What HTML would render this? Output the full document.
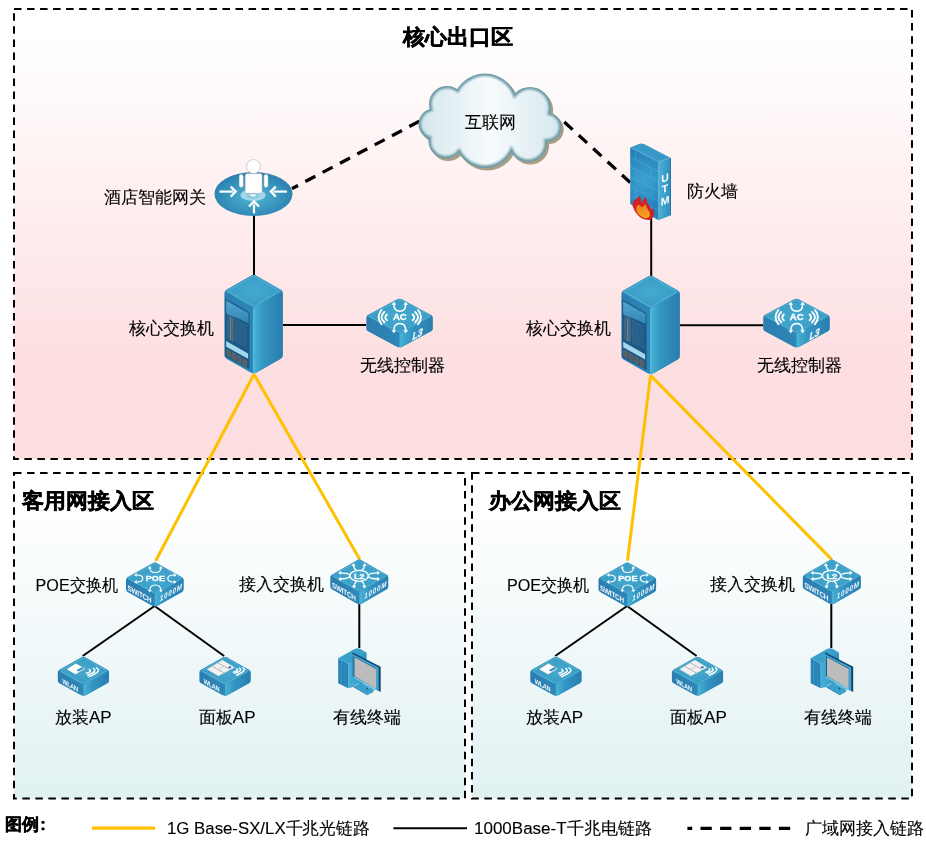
<!DOCTYPE html>
<html><head><meta charset="utf-8"><style>
html,body{margin:0;padding:0;background:#fff;overflow:hidden;}
svg{display:block;font-family:"Liberation Sans", sans-serif;will-change:transform;}
</style></head><body>
<svg width="926" height="842" viewBox="0 0 926 842">
<defs>
<linearGradient id="gPink" x1="0" y1="0" x2="0" y2="1">
  <stop offset="0" stop-color="#ffffff"/>
  <stop offset="0.06" stop-color="#ffffff"/>
  <stop offset="0.78" stop-color="#fddfe1"/>
  <stop offset="1" stop-color="#fddee0"/>
</linearGradient>
<linearGradient id="gCyan" x1="0" y1="0" x2="0" y2="1">
  <stop offset="0" stop-color="#ffffff"/>
  <stop offset="0.1" stop-color="#ffffff"/>
  <stop offset="1" stop-color="#e1f1f2"/>
</linearGradient>
<radialGradient id="gTop" cx="0.5" cy="0.5" r="0.6">
  <stop offset="0" stop-color="#46aad0"/>
  <stop offset="1" stop-color="#3597c0"/>
</radialGradient>
<linearGradient id="gLeft" x1="0" y1="0" x2="1" y2="0">
  <stop offset="0" stop-color="#2a7db0"/>
  <stop offset="0.7" stop-color="#2f8bbb"/>
  <stop offset="1" stop-color="#3aa5cb"/>
</linearGradient>
<linearGradient id="gRight" x1="0" y1="0" x2="1" y2="0">
  <stop offset="0" stop-color="#48b5d5"/>
  <stop offset="0.35" stop-color="#3394c2"/>
  <stop offset="1" stop-color="#2a7cae"/>
</linearGradient>
<radialGradient id="gGw" cx="0.5" cy="0.55" r="0.55">
  <stop offset="0" stop-color="#4fb6d4"/>
  <stop offset="1" stop-color="#2a7fae"/>
</radialGradient>
<linearGradient id="gCloud" gradientUnits="userSpaceOnUse" x1="418" y1="0" x2="563" y2="0">
  <stop offset="0" stop-color="#d3e6ec"/>
  <stop offset="0.5" stop-color="#f7fbfc"/>
  <stop offset="1" stop-color="#d5e7ed"/>
</linearGradient>
<linearGradient id="gDisp" x1="0" y1="0" x2="0" y2="1">
  <stop offset="0" stop-color="#58b0d6"/>
  <stop offset="1" stop-color="#2f80b2"/>
</linearGradient>
<linearGradient id="gPcR" x1="0" y1="0" x2="1" y2="0">
  <stop offset="0" stop-color="#44b0d8"/>
  <stop offset="1" stop-color="#2f8ec2"/>
</linearGradient>
<linearGradient id="gFlame" x1="0" y1="0" x2="0.3" y2="1">
  <stop offset="0" stop-color="#ee7a1e"/>
  <stop offset="1" stop-color="#f6a01a"/>
</linearGradient>
<filter id="fBlur" x="-10%" y="-10%" width="120%" height="120%"><feGaussianBlur stdDeviation="1.3"/></filter>
<radialGradient id="gFwF" gradientUnits="userSpaceOnUse" cx="645" cy="180" r="30">
  <stop offset="0" stop-color="#3ba3d0"/>
  <stop offset="1" stop-color="#2680b8"/>
</radialGradient>
<linearGradient id="gFwR" x1="0" y1="0" x2="1" y2="0">
  <stop offset="0" stop-color="#4ab3da"/>
  <stop offset="1" stop-color="#2f8cc0"/>
</linearGradient>
<clipPath id="clip292_167_666"><path d="M2.60,1.49 Q0.00,0.00 -2.60,1.49 L-27.12,15.51 Q-29.20,16.70 -29.20,19.10 L-29.20,80.90 Q-29.20,83.30 -27.12,84.49 L-3.39,98.06 Q0.00,100.00 3.39,98.06 L27.12,84.49 Q29.20,83.30 29.20,80.90 L29.20,19.10 Q29.20,16.70 27.12,15.51 Z"/></clipPath><clipPath id="clip332_177_145"><path d="M2.12,1.13 Q0.00,0.00 -2.12,1.13 L-31.51,16.80 Q-33.20,17.70 -33.20,19.62 L-33.20,30.28 Q-33.20,32.20 -31.51,33.10 L-2.75,48.43 Q0.00,49.90 2.75,48.43 L31.51,33.10 Q33.20,32.20 33.20,30.28 L33.20,19.62 Q33.20,17.70 31.51,16.80 Z"/></clipPath><clipPath id="clip288_162_128"><path d="M2.09,1.18 Q0.00,0.00 -2.09,1.18 L-27.13,15.26 Q-28.80,16.20 -28.80,18.12 L-28.80,27.08 Q-28.80,29.00 -27.13,29.94 L-2.72,43.67 Q0.00,45.20 2.72,43.67 L27.13,29.94 Q28.80,29.00 28.80,27.08 L28.80,18.12 Q28.80,16.20 27.13,15.26 Z"/></clipPath><clipPath id="clip290_166_128"><path d="M2.08,1.19 Q0.00,0.00 -2.08,1.19 L-27.33,15.65 Q-29.00,16.60 -29.00,18.52 L-29.00,27.48 Q-29.00,29.40 -27.33,30.35 L-2.71,44.45 Q0.00,46.00 2.71,44.45 L27.33,30.35 Q29.00,29.40 29.00,27.48 L29.00,18.52 Q29.00,16.60 27.33,15.65 Z"/></clipPath><clipPath id="clip256_143_116"><path d="M2.10,1.17 Q0.00,0.00 -2.10,1.17 L-23.92,13.36 Q-25.60,14.30 -25.60,16.22 L-25.60,23.98 Q-25.60,25.90 -23.92,26.84 L-2.72,38.68 Q0.00,40.20 2.72,38.68 L23.92,26.84 Q25.60,25.90 25.60,23.98 L25.60,16.22 Q25.60,14.30 23.92,13.36 Z"/></clipPath></defs>
<rect x="0" y="0" width="926" height="842" fill="#fff"/><rect x="14" y="9" width="898" height="450" fill="url(#gPink)"/><rect x="14" y="473" width="451" height="325.6" fill="url(#gCyan)"/><rect x="472" y="473" width="440" height="325.6" fill="url(#gCyan)"/><rect x="14" y="9" width="898" height="450" fill="none" stroke="#000" stroke-width="2" stroke-dasharray="7.5 5.53"/><rect x="14" y="473" width="451" height="325.6" fill="none" stroke="#000" stroke-width="2" stroke-dasharray="7.5 5.53"/><rect x="472" y="473" width="440" height="325.6" fill="none" stroke="#000" stroke-width="2" stroke-dasharray="7.5 5.53"/><g stroke="#ffc000" stroke-width="3" fill="none"><line x1="254" y1="374.3" x2="155.6" y2="561"/><line x1="254" y1="374.3" x2="359.8" y2="559.6"/><line x1="650.5" y1="375.4" x2="627.5" y2="560.8"/><line x1="650.5" y1="375.4" x2="831.6" y2="559.4"/></g><g stroke="#000" stroke-width="2" fill="none"><line x1="254" y1="214" x2="254" y2="275"/><line x1="651.2" y1="215" x2="651.2" y2="276"/><line x1="283" y1="325" x2="366" y2="325"/><line x1="680" y1="325.2" x2="763" y2="325.2"/><line x1="154.6" y1="606" x2="82.7" y2="656"/><line x1="154.6" y1="606" x2="224.1" y2="656"/><line x1="627.1" y1="606" x2="555.2" y2="656"/><line x1="627.1" y1="606" x2="696.6" y2="656"/><line x1="359.3" y1="604" x2="359.3" y2="648"/><line x1="831.3" y1="604" x2="831.3" y2="648"/></g><g stroke="#000" stroke-width="3.3" stroke-dasharray="11.3 8.3" fill="none"><line x1="419.3" y1="121.3" x2="292" y2="188.6"/><line x1="564.3" y1="122" x2="630.2" y2="182.5"/></g><g><g fill="#a89f86"><circle cx="487.2" cy="108.6" r="32.5"/><circle cx="449.2" cy="106.6" r="18"/><circle cx="436.2" cy="126.6" r="15.5"/><circle cx="448.2" cy="143.6" r="17.5"/><circle cx="487.2" cy="140.6" r="30"/><circle cx="532.2" cy="110.6" r="21"/><circle cx="549.2" cy="129.6" r="14.5"/><circle cx="530.2" cy="145.6" r="19"/></g><g fill="#6a9aa5"><circle cx="485" cy="106" r="32.5"/><circle cx="447" cy="104" r="18"/><circle cx="434" cy="124" r="15.5"/><circle cx="446" cy="141" r="17.5"/><circle cx="485" cy="138" r="30"/><circle cx="530" cy="108" r="21"/><circle cx="547" cy="127" r="14.5"/><circle cx="528" cy="143" r="19"/></g><g fill="url(#gCloud)" filter="url(#fBlur)"><circle cx="485" cy="106" r="29.9"/><circle cx="447" cy="104" r="15.4"/><circle cx="434" cy="124" r="12.9"/><circle cx="446" cy="141" r="14.9"/><circle cx="485" cy="138" r="27.4"/><circle cx="530" cy="108" r="18.4"/><circle cx="547" cy="127" r="11.9"/><circle cx="528" cy="143" r="16.4"/><circle cx="470" cy="124" r="23.4"/><circle cx="505" cy="124" r="23.4"/><circle cx="490" cy="120" r="27.4"/><circle cx="447" cy="124" r="13.4"/><circle cx="533" cy="126" r="13.4"/></g></g><g transform="translate(253.5,194)"><ellipse cx="0" cy="0" rx="39" ry="22" fill="url(#gGw)"/><ellipse cx="-0.5" cy="1.2" rx="12.5" ry="5.8" fill="#a3d6e6"/><ellipse cx="-0.5" cy="1.6" rx="7" ry="3.2" fill="#8ccbe0"/><path d="M-4.2,0.6 Q-0.5,4.3 3.2,0.6 Z" fill="#fff"/><circle cx="0" cy="-27.4" r="7" fill="#fff" stroke="#8e9ca5" stroke-width="0.45"/><path d="M-8.4,-18.3 Q-8.4,-20.4 -6.4,-20.4 L6.6,-20.4 Q8.6,-20.4 8.6,-18.3 L8.6,-2.8 Q8.6,-0.7 6.6,-0.7 L-6.4,-0.7 Q-8.4,-0.7 -8.4,-2.8 Z" fill="#fff" stroke="#8e9ca5" stroke-width="0.45"/><rect x="-14.4" y="-19.8" width="4.2" height="13.2" rx="2" fill="#fff" stroke="#8e9ca5" stroke-width="0.45"/><rect x="10.4" y="-19.8" width="4.2" height="13.2" rx="2" fill="#fff" stroke="#8e9ca5" stroke-width="0.45"/><g stroke="#fff" stroke-width="2.2" stroke-linecap="butt"><line x1="-34" y1="-2.4" x2="-20.5" y2="-2.4"/><line x1="33.5" y1="-2.4" x2="20" y2="-2.4"/><line x1="0.5" y1="19.5" x2="0.5" y2="10.5"/></g><g fill="none" stroke="#fff" stroke-width="2.3" stroke-linejoin="miter" stroke-linecap="butt"><path d="M-22.8,-7.4 L-17.8,-2.4 L-22.8,2.6"/><path d="M22.3,-7.4 L17.3,-2.4 L22.3,2.6"/><path d="M-4.5,12.5 L0.5,7.5 L5.5,12.5"/></g></g><g><path d="M630.2,147.4 L639,143.9 Q641.5,142.9 644,144.1 L670.9,158.1 L658.5,162.1 Z" fill="#3898c6"/><path d="M631.5,147.6 L658.5,161.4 L669.3,158" fill="none" stroke="#5fb8dc" stroke-width="0.5"/><path d="M658.5,162.1 L670.9,158.1 L670.9,215.2 L658.5,220.2 Z" fill="url(#gFwR)"/><line x1="670.5" y1="158.3" x2="670.5" y2="215.2" stroke="#1f6d9c" stroke-width="0.8"/><path d="M630.2,147.4 L658.5,162.1 L658.5,220.2 L630.2,204 Z" fill="url(#gFwF)"/><g stroke="#58b0d8" stroke-width="0.55" fill="none" opacity="0.9"><line x1="630.2" y1="157.10" x2="658.5" y2="171.80"/><line x1="630.2" y1="166.80" x2="658.5" y2="181.50"/><line x1="630.2" y1="176.50" x2="658.5" y2="191.20"/><line x1="630.2" y1="186.20" x2="658.5" y2="200.90"/><line x1="630.2" y1="195.90" x2="658.5" y2="210.60"/><line x1="635.8" y1="151.11" x2="635.8" y2="159.31"/><line x1="651.2" y1="168.81" x2="651.2" y2="177.01"/><line x1="635.8" y1="170.51" x2="635.8" y2="178.71"/><line x1="651.2" y1="188.21" x2="651.2" y2="196.41"/><line x1="635.8" y1="189.91" x2="635.8" y2="198.11"/><line x1="651.2" y1="207.61" x2="651.2" y2="215.81"/></g><g transform="translate(665,181.5) skewY(-20)"><text x="0" y="0" font-size="10.5" font-weight="bold" fill="#fff" text-anchor="middle" font-family="Liberation Sans">U</text></g><g transform="translate(665,192.4) skewY(-20)"><text x="0" y="0" font-size="10.5" font-weight="bold" fill="#fff" text-anchor="middle" font-family="Liberation Sans">T</text></g><g transform="translate(665,204.3) skewY(-20)"><text x="0" y="0" font-size="10.5" font-weight="bold" fill="#fff" text-anchor="middle" font-family="Liberation Sans">M</text></g><path d="M632.6,206 Q632,201.5 635.5,199.5 Q638.5,198 639.8,195.8 Q641.2,199.5 642.2,203.2 Q643,199.5 645.5,197 Q647,200.5 647.6,203.5 Q650.5,206.5 651.2,210 Q652.3,209.5 653.2,208.2 Q654.5,212.5 653.6,216 Q652.8,218.8 650.5,219.8 Q646,220.6 641.5,218.2 Q635.2,214 632.6,206 Z" fill="#d41f26"/><path d="M636.2,209.5 Q636,205.8 638.8,204.5 Q640.5,206 642.2,207.6 Q643.5,205.3 645.6,204.2 Q646.4,207 647.8,209.2 Q650.2,212 650,215 Q649.6,217.8 647.2,218.3 Q643,218.4 639.8,215.6 Q636.6,213 636.2,209.5 Z" fill="url(#gFlame)"/></g><g transform="translate(253.6,274.3)"><path d="M2.60,1.49 Q0.00,0.00 -2.60,1.49 L-27.12,15.51 Q-29.20,16.70 -29.20,19.10 L-29.20,80.90 Q-29.20,83.30 -27.12,84.49 L-3.39,98.06 Q0.00,100.00 3.39,98.06 L27.12,84.49 Q29.20,83.30 29.20,80.90 L29.20,19.10 Q29.20,16.70 27.12,15.51 Z" fill="url(#gLeft)"/><path d="M0,31.4 L30.2,14.7 L30.2,85.3 L0,102.0 Z" fill="url(#gRight)" clip-path="url(#clip292_167_666)"/><path d="M2.60,1.49 Q0.00,0.00 -2.60,1.49 L-27.12,15.51 Q-29.20,16.70 -27.12,17.89 L-3.39,31.46 Q0.00,33.40 3.39,31.46 L27.12,17.89 Q29.20,16.70 27.12,15.51 Z" fill="url(#gTop)"/><path d="M-28.40,24.30 L-4.10,38.20 L-4.10,95.00 L-28.40,82.30 Z" fill="#1b5885"/><path d="M-27.40,26.27 L-5.10,39.03 L-5.10,48.83 L-27.40,39.07 Z" fill="url(#gDisp)"/><g stroke="#3c8fbf" stroke-width="0.7"><line x1="-27.4" y1="27.00" x2="-5.1" y2="40.33"/><line x1="-27.4" y1="29.60" x2="-5.1" y2="42.93"/><line x1="-27.4" y1="32.20" x2="-5.1" y2="45.53"/><line x1="-27.4" y1="34.80" x2="-5.1" y2="48.13"/></g><g stroke="#c3d0d8" stroke-width="0.55" stroke-dasharray="1.2 0.4 0.8 0.5" opacity="0.8"><line x1="-26.3" y1="39.50" x2="-20" y2="43.10"/><line x1="-26.3" y1="41.65" x2="-20" y2="45.25"/><line x1="-26.3" y1="43.80" x2="-20" y2="47.40"/><line x1="-26.3" y1="45.95" x2="-20" y2="49.55"/><line x1="-26.3" y1="48.10" x2="-20" y2="51.70"/><line x1="-26.3" y1="50.25" x2="-20" y2="53.85"/><line x1="-26.3" y1="52.40" x2="-20" y2="56.00"/><line x1="-26.3" y1="54.55" x2="-20" y2="58.15"/><line x1="-26.3" y1="56.70" x2="-20" y2="60.30"/><line x1="-26.3" y1="58.85" x2="-20" y2="62.45"/><line x1="-26.3" y1="61.00" x2="-20" y2="64.60"/><line x1="-26.3" y1="63.15" x2="-20" y2="66.75"/></g><g stroke="#a9b9c4" stroke-width="0.5" stroke-dasharray="0.9 0.6 1.4 0.4" opacity="0.7"><line x1="-18.5" y1="45.16" x2="-6.5" y2="52.02"/><line x1="-18.5" y1="47.31" x2="-6.5" y2="54.17"/><line x1="-18.5" y1="49.46" x2="-6.5" y2="56.32"/><line x1="-18.5" y1="51.61" x2="-6.5" y2="58.48"/><line x1="-18.5" y1="53.76" x2="-6.5" y2="60.62"/><line x1="-18.5" y1="55.91" x2="-6.5" y2="62.77"/><line x1="-18.5" y1="58.06" x2="-6.5" y2="64.92"/><line x1="-18.5" y1="60.21" x2="-6.5" y2="67.07"/><line x1="-18.5" y1="62.36" x2="-6.5" y2="69.22"/><line x1="-18.5" y1="64.51" x2="-6.5" y2="71.38"/><line x1="-18.5" y1="66.66" x2="-6.5" y2="73.53"/></g><line x1="-23" y1="43.09" x2="-23" y2="66.09" stroke="#b88a55" stroke-width="0.7"/><line x1="-20.5" y1="44.52" x2="-20.5" y2="67.52" stroke="#a07a50" stroke-width="0.5"/><g stroke="#1e5f8c" stroke-width="0.7"><line x1="-15" y1="47.66" x2="-15" y2="71.66"/><line x1="-11" y1="49.95" x2="-11" y2="73.95"/><line x1="-8" y1="51.67" x2="-8" y2="75.67"/></g><path d="M-27.40,66.67 L-5.50,79.20 L-5.50,84.40 L-27.40,72.37 Z" fill="#a3d7ec"/><path d="M-26.80,75.12 L-23.20,77.17 L-23.20,83.17 L-26.80,81.12 Z" fill="#4d5f68" stroke="#94704c" stroke-width="0.5"/><path d="M-21.40,78.20 L-17.80,80.26 L-17.80,86.26 L-21.40,84.20 Z" fill="#4d5f68" stroke="#94704c" stroke-width="0.5"/><path d="M-16.00,81.29 L-12.40,83.35 L-12.40,89.35 L-16.00,87.29 Z" fill="#4d5f68" stroke="#94704c" stroke-width="0.5"/><path d="M-10.60,84.38 L-7.00,86.44 L-7.00,92.44 L-10.60,90.38 Z" fill="#4d5f68" stroke="#94704c" stroke-width="0.5"/><line x1="0" y1="33.9" x2="0" y2="99.5" stroke="#55bddb" stroke-width="1.2"/><path d="M0,1.6 L-26.0,16.7 L0,31.799999999999997 L26.0,16.7 Z" fill="none" stroke="#6cc3df" stroke-width="0.55" stroke-linejoin="round"/></g><g transform="translate(650.6,275)"><path d="M2.60,1.49 Q0.00,0.00 -2.60,1.49 L-27.12,15.51 Q-29.20,16.70 -29.20,19.10 L-29.20,80.90 Q-29.20,83.30 -27.12,84.49 L-3.39,98.06 Q0.00,100.00 3.39,98.06 L27.12,84.49 Q29.20,83.30 29.20,80.90 L29.20,19.10 Q29.20,16.70 27.12,15.51 Z" fill="url(#gLeft)"/><path d="M0,31.4 L30.2,14.7 L30.2,85.3 L0,102.0 Z" fill="url(#gRight)" clip-path="url(#clip292_167_666)"/><path d="M2.60,1.49 Q0.00,0.00 -2.60,1.49 L-27.12,15.51 Q-29.20,16.70 -27.12,17.89 L-3.39,31.46 Q0.00,33.40 3.39,31.46 L27.12,17.89 Q29.20,16.70 27.12,15.51 Z" fill="url(#gTop)"/><path d="M-28.40,24.30 L-4.10,38.20 L-4.10,95.00 L-28.40,82.30 Z" fill="#1b5885"/><path d="M-27.40,26.27 L-5.10,39.03 L-5.10,48.83 L-27.40,39.07 Z" fill="url(#gDisp)"/><g stroke="#3c8fbf" stroke-width="0.7"><line x1="-27.4" y1="27.00" x2="-5.1" y2="40.33"/><line x1="-27.4" y1="29.60" x2="-5.1" y2="42.93"/><line x1="-27.4" y1="32.20" x2="-5.1" y2="45.53"/><line x1="-27.4" y1="34.80" x2="-5.1" y2="48.13"/></g><g stroke="#c3d0d8" stroke-width="0.55" stroke-dasharray="1.2 0.4 0.8 0.5" opacity="0.8"><line x1="-26.3" y1="39.50" x2="-20" y2="43.10"/><line x1="-26.3" y1="41.65" x2="-20" y2="45.25"/><line x1="-26.3" y1="43.80" x2="-20" y2="47.40"/><line x1="-26.3" y1="45.95" x2="-20" y2="49.55"/><line x1="-26.3" y1="48.10" x2="-20" y2="51.70"/><line x1="-26.3" y1="50.25" x2="-20" y2="53.85"/><line x1="-26.3" y1="52.40" x2="-20" y2="56.00"/><line x1="-26.3" y1="54.55" x2="-20" y2="58.15"/><line x1="-26.3" y1="56.70" x2="-20" y2="60.30"/><line x1="-26.3" y1="58.85" x2="-20" y2="62.45"/><line x1="-26.3" y1="61.00" x2="-20" y2="64.60"/><line x1="-26.3" y1="63.15" x2="-20" y2="66.75"/></g><g stroke="#a9b9c4" stroke-width="0.5" stroke-dasharray="0.9 0.6 1.4 0.4" opacity="0.7"><line x1="-18.5" y1="45.16" x2="-6.5" y2="52.02"/><line x1="-18.5" y1="47.31" x2="-6.5" y2="54.17"/><line x1="-18.5" y1="49.46" x2="-6.5" y2="56.32"/><line x1="-18.5" y1="51.61" x2="-6.5" y2="58.48"/><line x1="-18.5" y1="53.76" x2="-6.5" y2="60.62"/><line x1="-18.5" y1="55.91" x2="-6.5" y2="62.77"/><line x1="-18.5" y1="58.06" x2="-6.5" y2="64.92"/><line x1="-18.5" y1="60.21" x2="-6.5" y2="67.07"/><line x1="-18.5" y1="62.36" x2="-6.5" y2="69.22"/><line x1="-18.5" y1="64.51" x2="-6.5" y2="71.38"/><line x1="-18.5" y1="66.66" x2="-6.5" y2="73.53"/></g><line x1="-23" y1="43.09" x2="-23" y2="66.09" stroke="#b88a55" stroke-width="0.7"/><line x1="-20.5" y1="44.52" x2="-20.5" y2="67.52" stroke="#a07a50" stroke-width="0.5"/><g stroke="#1e5f8c" stroke-width="0.7"><line x1="-15" y1="47.66" x2="-15" y2="71.66"/><line x1="-11" y1="49.95" x2="-11" y2="73.95"/><line x1="-8" y1="51.67" x2="-8" y2="75.67"/></g><path d="M-27.40,66.67 L-5.50,79.20 L-5.50,84.40 L-27.40,72.37 Z" fill="#a3d7ec"/><path d="M-26.80,75.12 L-23.20,77.17 L-23.20,83.17 L-26.80,81.12 Z" fill="#4d5f68" stroke="#94704c" stroke-width="0.5"/><path d="M-21.40,78.20 L-17.80,80.26 L-17.80,86.26 L-21.40,84.20 Z" fill="#4d5f68" stroke="#94704c" stroke-width="0.5"/><path d="M-16.00,81.29 L-12.40,83.35 L-12.40,89.35 L-16.00,87.29 Z" fill="#4d5f68" stroke="#94704c" stroke-width="0.5"/><path d="M-10.60,84.38 L-7.00,86.44 L-7.00,92.44 L-10.60,90.38 Z" fill="#4d5f68" stroke="#94704c" stroke-width="0.5"/><line x1="0" y1="33.9" x2="0" y2="99.5" stroke="#55bddb" stroke-width="1.2"/><path d="M0,1.6 L-26.0,16.7 L0,31.799999999999997 L26.0,16.7 Z" fill="none" stroke="#6cc3df" stroke-width="0.55" stroke-linejoin="round"/></g><g transform="translate(399.5,298.2)"><path d="M2.12,1.13 Q0.00,0.00 -2.12,1.13 L-31.51,16.80 Q-33.20,17.70 -33.20,19.62 L-33.20,30.28 Q-33.20,32.20 -31.51,33.10 L-2.75,48.43 Q0.00,49.90 2.75,48.43 L31.51,33.10 Q33.20,32.20 33.20,30.28 L33.20,19.62 Q33.20,17.70 31.51,16.80 Z" fill="url(#gLeft)"/><path d="M0,33.4 L34.2,15.7 L34.2,34.2 L0,51.9 Z" fill="url(#gRight)" clip-path="url(#clip332_177_145)"/><path d="M2.12,1.13 Q0.00,0.00 -2.12,1.13 L-31.51,16.80 Q-33.20,17.70 -31.51,18.60 L-2.75,33.93 Q0.00,35.40 2.75,33.93 L31.51,18.60 Q33.20,17.70 31.51,16.80 Z" fill="url(#gTop)"/><path d="M2.12,2.33 Q0.00,1.20 -2.12,2.33 L-29.31,16.80 Q-31.00,17.70 -29.31,18.60 L-2.75,32.73 Q0.00,34.20 2.75,32.73 L29.31,18.60 Q31.00,17.70 29.31,16.80 Z" fill="none" stroke="#7fcbe3" stroke-width="0.5" opacity="0.75"/><g fill="none" stroke="#fff" stroke-width="1.9" stroke-linecap="round"><path d="M-18,11.8 Q-23.799999999999997,18.9 -18,26.0"/><path d="M18.6,11.8 Q24.4,18.9 18.6,26.0"/><path d="M-15.1,13.8 Q-20.9,18.950000000000003 -15.1,24.1"/><path d="M15.7,13.8 Q21.5,18.950000000000003 15.7,24.1"/><path d="M-12.6,16.3 Q-15.799999999999999,19.200000000000003 -12.6,22.1"/><path d="M13.2,16.3 Q16.4,19.200000000000003 13.2,22.1"/></g><g fill="none" stroke="#fff" stroke-width="1.5" stroke-linecap="round"><path d="M-5.6,6.3 Q-5.6,13 0.3,13 Q6.2,13 6.2,6.3"/><path d="M-5.6,32.3 Q-5.6,25.3 0.3,25.3 Q6.2,25.3 6.2,32.3"/></g><path d="M-5.60,3.60 L-3.20,6.60 L-8.00,6.60 Z" fill="#fff"/><path d="M6.20,3.60 L8.60,6.60 L3.80,6.60 Z" fill="#fff"/><path d="M-5.60,35.00 L-8.00,32.00 L-3.20,32.00 Z" fill="#fff"/><path d="M6.20,35.00 L3.80,32.00 L8.60,32.00 Z" fill="#fff"/><text x="0.3" y="22" font-size="9.6" font-weight="bold" fill="#fff" stroke="#fff" stroke-width="0.35" text-anchor="middle" font-family="Liberation Sans">AC</text><g transform="translate(0,35.4) skewY(-28.06)"><g transform="translate(12.6,13.5) skewX(-12) scale(0.92,1.08)"><text x="0" y="0" font-size="9.2" font-weight="bold" fill="#fff" stroke="#fff" stroke-width="0.25" font-family="Liberation Sans" opacity="0.95">L3</text></g></g></g><g transform="translate(796.4,298.2)"><path d="M2.12,1.13 Q0.00,0.00 -2.12,1.13 L-31.51,16.80 Q-33.20,17.70 -33.20,19.62 L-33.20,30.28 Q-33.20,32.20 -31.51,33.10 L-2.75,48.43 Q0.00,49.90 2.75,48.43 L31.51,33.10 Q33.20,32.20 33.20,30.28 L33.20,19.62 Q33.20,17.70 31.51,16.80 Z" fill="url(#gLeft)"/><path d="M0,33.4 L34.2,15.7 L34.2,34.2 L0,51.9 Z" fill="url(#gRight)" clip-path="url(#clip332_177_145)"/><path d="M2.12,1.13 Q0.00,0.00 -2.12,1.13 L-31.51,16.80 Q-33.20,17.70 -31.51,18.60 L-2.75,33.93 Q0.00,35.40 2.75,33.93 L31.51,18.60 Q33.20,17.70 31.51,16.80 Z" fill="url(#gTop)"/><path d="M2.12,2.33 Q0.00,1.20 -2.12,2.33 L-29.31,16.80 Q-31.00,17.70 -29.31,18.60 L-2.75,32.73 Q0.00,34.20 2.75,32.73 L29.31,18.60 Q31.00,17.70 29.31,16.80 Z" fill="none" stroke="#7fcbe3" stroke-width="0.5" opacity="0.75"/><g fill="none" stroke="#fff" stroke-width="1.9" stroke-linecap="round"><path d="M-18,11.8 Q-23.799999999999997,18.9 -18,26.0"/><path d="M18.6,11.8 Q24.4,18.9 18.6,26.0"/><path d="M-15.1,13.8 Q-20.9,18.950000000000003 -15.1,24.1"/><path d="M15.7,13.8 Q21.5,18.950000000000003 15.7,24.1"/><path d="M-12.6,16.3 Q-15.799999999999999,19.200000000000003 -12.6,22.1"/><path d="M13.2,16.3 Q16.4,19.200000000000003 13.2,22.1"/></g><g fill="none" stroke="#fff" stroke-width="1.5" stroke-linecap="round"><path d="M-5.6,6.3 Q-5.6,13 0.3,13 Q6.2,13 6.2,6.3"/><path d="M-5.6,32.3 Q-5.6,25.3 0.3,25.3 Q6.2,25.3 6.2,32.3"/></g><path d="M-5.60,3.60 L-3.20,6.60 L-8.00,6.60 Z" fill="#fff"/><path d="M6.20,3.60 L8.60,6.60 L3.80,6.60 Z" fill="#fff"/><path d="M-5.60,35.00 L-8.00,32.00 L-3.20,32.00 Z" fill="#fff"/><path d="M6.20,35.00 L3.80,32.00 L8.60,32.00 Z" fill="#fff"/><text x="0.3" y="22" font-size="9.6" font-weight="bold" fill="#fff" stroke="#fff" stroke-width="0.35" text-anchor="middle" font-family="Liberation Sans">AC</text><g transform="translate(0,35.4) skewY(-28.06)"><g transform="translate(12.6,13.5) skewX(-12) scale(0.92,1.08)"><text x="0" y="0" font-size="9.2" font-weight="bold" fill="#fff" stroke="#fff" stroke-width="0.25" font-family="Liberation Sans" opacity="0.95">L3</text></g></g></g><g transform="translate(154.8,562)"><path d="M2.09,1.18 Q0.00,0.00 -2.09,1.18 L-27.13,15.26 Q-28.80,16.20 -28.80,18.12 L-28.80,27.08 Q-28.80,29.00 -27.13,29.94 L-2.72,43.67 Q0.00,45.20 2.72,43.67 L27.13,29.94 Q28.80,29.00 28.80,27.08 L28.80,18.12 Q28.80,16.20 27.13,15.26 Z" fill="url(#gLeft)"/><path d="M0,30.4 L29.8,14.2 L29.8,31.0 L0,47.2 Z" fill="url(#gRight)" clip-path="url(#clip288_162_128)"/><path d="M2.09,1.18 Q0.00,0.00 -2.09,1.18 L-27.13,15.26 Q-28.80,16.20 -27.13,17.14 L-2.72,30.87 Q0.00,32.40 2.72,30.87 L27.13,17.14 Q28.80,16.20 27.13,15.26 Z" fill="url(#gTop)"/><path d="M2.09,2.38 Q0.00,1.20 -2.09,2.38 L-24.93,15.26 Q-26.60,16.20 -24.93,17.14 L-2.72,29.67 Q0.00,31.20 2.72,29.67 L24.93,17.14 Q26.60,16.20 24.93,15.26 Z" fill="none" stroke="#7fcbe3" stroke-width="0.5" opacity="0.75"/><g fill="none" stroke="#fff" stroke-width="1.2" stroke-linecap="round"><path d="M-5,6 Q-5,10.5 0.5,10.5 Q6,10.5 6,6"/><path d="M-5,28.5 Q-5,23 0.5,23 Q6,23 6,28.5"/><path d="M-18,13 Q-12,13 -12,16.5 Q-12,20 -18,20"/><path d="M19,13 Q13,13 13,16.5 Q13,20 19,20"/></g><path d="M-5.00,4.00 L-3.08,6.40 L-6.92,6.40 Z" fill="#fff"/><path d="M6.00,4.00 L7.92,6.40 L4.08,6.40 Z" fill="#fff"/><path d="M-5.00,30.30 L-6.92,27.90 L-3.08,27.90 Z" fill="#fff"/><path d="M6.00,30.30 L4.08,27.90 L7.92,27.90 Z" fill="#fff"/><path d="M-20.50,13.00 L-18.10,11.08 L-18.10,14.92 Z" fill="#fff"/><path d="M-20.50,20.00 L-18.10,18.08 L-18.10,21.92 Z" fill="#fff"/><path d="M21.50,13.00 L19.10,14.92 L19.10,11.08 Z" fill="#fff"/><path d="M21.50,20.00 L19.10,21.92 L19.10,18.08 Z" fill="#fff"/><text x="-9" y="18.7" font-size="7.6" font-weight="bold" fill="#fff" stroke="#fff" stroke-width="0.3" textLength="19.2" lengthAdjust="spacingAndGlyphs" font-family="Liberation Sans">POE</text><g transform="translate(-28.8,16.2) skewY(29.36)"><g transform="translate(1.6,10.8) scale(0.92,1.1)"><text x="0" y="0" font-size="6.9" font-weight="bold" fill="#fff" textLength="26" lengthAdjust="spacing" font-family="Liberation Sans" opacity="0.95">SWITCH</text></g></g><g transform="translate(0,32.4) skewY(-29.36)"><g transform="translate(4.6,9.8) skewX(-8) scale(0.9,1.12)"><text x="0" y="0" font-size="6.9" font-weight="bold" fill="#fff" textLength="24.8" lengthAdjust="spacing" font-family="Liberation Sans" opacity="0.95">1000M</text></g></g></g><g transform="translate(359.3,559)"><path d="M2.08,1.19 Q0.00,0.00 -2.08,1.19 L-27.33,15.65 Q-29.00,16.60 -29.00,18.52 L-29.00,27.48 Q-29.00,29.40 -27.33,30.35 L-2.71,44.45 Q0.00,46.00 2.71,44.45 L27.33,30.35 Q29.00,29.40 29.00,27.48 L29.00,18.52 Q29.00,16.60 27.33,15.65 Z" fill="url(#gLeft)"/><path d="M0,31.200000000000003 L30,14.600000000000001 L30,31.400000000000002 L0,48.0 Z" fill="url(#gRight)" clip-path="url(#clip290_166_128)"/><path d="M2.08,1.19 Q0.00,0.00 -2.08,1.19 L-27.33,15.65 Q-29.00,16.60 -27.33,17.55 L-2.71,31.65 Q0.00,33.20 2.71,31.65 L27.33,17.55 Q29.00,16.60 27.33,15.65 Z" fill="url(#gTop)"/><path d="M2.08,2.40 Q0.00,1.20 -2.08,2.40 L-25.14,15.64 Q-26.80,16.60 -25.14,17.56 L-2.71,30.45 Q0.00,32.00 2.71,30.45 L25.14,17.56 Q26.80,16.60 25.14,15.64 Z" fill="none" stroke="#7fcbe3" stroke-width="0.5" opacity="0.75"/><g fill="none" stroke="#fff" stroke-width="1.35" stroke-linecap="round"><ellipse cx="-0.2" cy="16.8" rx="9.3" ry="5.5"/><path d="M-2.8,11.3 Q-5.5,9.5 -5.8,6.6"/><path d="M2.4,11.3 Q5,9.5 5.2,6.6"/><path d="M-2.8,22.3 Q-5,24.5 -5.2,27"/><path d="M2.4,22.3 Q4.8,24.5 5,27"/><path d="M-9.3,16 Q-12,13.9 -18.5,13.9"/><path d="M-9.3,17.6 Q-12,20 -18.5,20"/><path d="M8.9,16 Q11.6,13.9 18,13.9"/><path d="M8.9,17.6 Q11.6,20 18,20"/></g><path d="M-6.00,4.20 L-3.61,6.70 L-7.92,7.08 Z" fill="#fff"/><path d="M5.40,4.20 L7.32,7.08 L3.01,6.70 Z" fill="#fff"/><path d="M-5.30,29.40 L-7.36,26.63 L-3.05,26.78 Z" fill="#fff"/><path d="M5.10,29.40 L2.85,26.78 L7.16,26.63 Z" fill="#fff"/><path d="M-21.00,13.90 L-18.30,11.74 L-18.30,16.06 Z" fill="#fff"/><path d="M-21.00,20.00 L-18.30,17.84 L-18.30,22.16 Z" fill="#fff"/><path d="M20.60,13.90 L17.90,16.06 L17.90,11.74 Z" fill="#fff"/><path d="M20.60,20.00 L17.90,22.16 L17.90,17.84 Z" fill="#fff"/><text x="-5.4" y="19.9" font-size="8" font-weight="bold" fill="#fff" stroke="#fff" stroke-width="0.3" textLength="10.6" lengthAdjust="spacingAndGlyphs" font-family="Liberation Sans">L2</text><g transform="translate(-29,16.6) skewY(29.79)"><g transform="translate(1.6,10.8) scale(0.92,1.1)"><text x="0" y="0" font-size="6.9" font-weight="bold" fill="#fff" textLength="26" lengthAdjust="spacing" font-family="Liberation Sans" opacity="0.95">SWITCH</text></g></g><g transform="translate(0,33.2) skewY(-29.79)"><g transform="translate(4.6,9.8) skewX(-8) scale(0.9,1.12)"><text x="0" y="0" font-size="6.9" font-weight="bold" fill="#fff" textLength="24.8" lengthAdjust="spacing" font-family="Liberation Sans" opacity="0.95">1000M</text></g></g></g><g transform="translate(83.4,656.4)"><path d="M2.10,1.17 Q0.00,0.00 -2.10,1.17 L-23.92,13.36 Q-25.60,14.30 -25.60,16.22 L-25.60,23.98 Q-25.60,25.90 -23.92,26.84 L-2.72,38.68 Q0.00,40.20 2.72,38.68 L23.92,26.84 Q25.60,25.90 25.60,23.98 L25.60,16.22 Q25.60,14.30 23.92,13.36 Z" fill="url(#gLeft)"/><path d="M0,26.6 L26.6,12.3 L26.6,27.9 L0,42.2 Z" fill="url(#gRight)" clip-path="url(#clip256_143_116)"/><path d="M2.10,1.17 Q0.00,0.00 -2.10,1.17 L-23.92,13.36 Q-25.60,14.30 -23.92,15.24 L-2.72,27.08 Q0.00,28.60 2.72,27.08 L23.92,15.24 Q25.60,14.30 23.92,13.36 Z" fill="url(#gTop)"/><path d="M2.09,2.37 Q0.00,1.20 -2.09,2.37 L-21.72,13.36 Q-23.40,14.30 -21.72,15.24 L-2.72,25.88 Q0.00,27.40 2.72,25.88 L21.72,15.24 Q23.40,14.30 21.72,13.36 Z" fill="none" stroke="#7fcbe3" stroke-width="0.5" opacity="0.75"/><path d="M-16.9,12.8 L-7.5,6.9 L1.9,12.4 L-7.9,18.2 Z" fill="#fff" stroke="#5a6a70" stroke-width="0.25"/><path d="M-7.1,13.9 L-1.6,10.8 L0.6,12.1 L-4.9,15.2 Z" fill="#2f92c0"/><g fill="none" stroke="#fff" stroke-width="1.45" stroke-linecap="round"><path d="M5.60,20.40 Q19.70,14.30 13.00,11.40"/><path d="M4.20,18.80 Q14.75,14.80 9.90,12.00"/><path d="M2.80,16.70 Q9.50,15.35 5.80,13.00"/></g><g transform="translate(-25.6,14.3) skewY(29.19)"><g transform="translate(4.4,10.1) scale(0.92,1.12)"><text x="0" y="0" font-size="6.1" font-weight="bold" fill="#fff" textLength="17.2" lengthAdjust="spacing" font-family="Liberation Sans" opacity="0.95">WLAN</text></g></g></g><g transform="translate(225,656.4)"><path d="M2.10,1.17 Q0.00,0.00 -2.10,1.17 L-23.92,13.36 Q-25.60,14.30 -25.60,16.22 L-25.60,23.98 Q-25.60,25.90 -23.92,26.84 L-2.72,38.68 Q0.00,40.20 2.72,38.68 L23.92,26.84 Q25.60,25.90 25.60,23.98 L25.60,16.22 Q25.60,14.30 23.92,13.36 Z" fill="url(#gLeft)"/><path d="M0,26.6 L26.6,12.3 L26.6,27.9 L0,42.2 Z" fill="url(#gRight)" clip-path="url(#clip256_143_116)"/><path d="M2.10,1.17 Q0.00,0.00 -2.10,1.17 L-23.92,13.36 Q-25.60,14.30 -23.92,15.24 L-2.72,27.08 Q0.00,28.60 2.72,27.08 L23.92,15.24 Q25.60,14.30 23.92,13.36 Z" fill="url(#gTop)"/><path d="M2.09,2.37 Q0.00,1.20 -2.09,2.37 L-21.72,13.36 Q-23.40,14.30 -21.72,15.24 L-2.72,25.88 Q0.00,27.40 2.72,25.88 L21.72,15.24 Q23.40,14.30 21.72,13.36 Z" fill="none" stroke="#7fcbe3" stroke-width="0.5" opacity="0.75"/><path d="M-18.1,12.9 L-2.5,3.6 L9.7,11.1 L-6.6,19.7 Z" fill="#f3f1f0" stroke="#c9b8b0" stroke-width="0.3"/><g stroke="#6f7275" stroke-width="0.5"><line x1="-12.5" y1="10" x2="-1.1" y2="16.6"/><line x1="-7" y1="6.6" x2="4.8" y2="12.9"/><line x1="-6.1" y1="12.9" x2="-2" y2="10.4" stroke-width="0.35"/></g><ellipse cx="4.8" cy="10.9" rx="1.45" ry="0.95" fill="#1f6db5"/><g fill="none" stroke="#fff" stroke-width="1.45" stroke-linecap="round"><path d="M11.60,18.80 Q22.85,13.50 17.90,11.40"/><path d="M10.00,17.00 Q18.65,13.80 14.30,11.80"/><path d="M8.40,15.90 Q14.40,14.00 11.60,12.50"/></g><g transform="translate(-25.6,14.3) skewY(29.19)"><g transform="translate(4.4,10.1) scale(0.92,1.12)"><text x="0" y="0" font-size="6.1" font-weight="bold" fill="#fff" textLength="17.2" lengthAdjust="spacing" font-family="Liberation Sans" opacity="0.95">WLAN</text></g></g></g><g transform="translate(333,645)"><path d="M5.2,13.3 L22,3.8 Q24.5,2.6 27,3.8 L33.4,7.5 L33.4,14 L15.1,18.5 Z" fill="#3aa0cb"/><path d="M15.1,18.5 L33.4,8 L33.4,36 L26,40.5 L15.3,43.2 Z" fill="url(#gPcR)"/><path d="M5.2,13.3 L15.1,18.5 L15.3,43.2 L5.2,38.3 Z" fill="#2a82b7"/><g stroke-width="0.9"><line x1="8.3" y1="15.5" x2="8.3" y2="39.5" stroke="#3b9bc9"/><line x1="12" y1="17.3" x2="12" y2="41.4" stroke="#318fc2"/></g><path d="M5.2,13.3 L15.1,18.5" stroke="#56b6dc" stroke-width="0.5" fill="none"/><path d="M20.9,41.3 L34.3,49.2 L40.5,45.6 L27,37.8 Z" fill="#37a2cf"/><path d="M20.9,41.3 L34.3,49.2 L34.3,50.3 L20.9,42.4 Z" fill="#2478ab"/><path d="M34.3,49.2 L40.5,45.6 L40.5,46.7 L34.3,50.3 Z" fill="#2d87ba"/><path d="M24.5,35.2 L41.5,44.8 L40.5,45.6 L27,37.8 Z" fill="#2f95c5"/><path d="M21,41 L26,38.2" stroke="#cfeaf3" stroke-width="0.6"/><path d="M19.5,7.2 L47.7,21.75 L47.7,46.9 L19.5,31.8 Z" fill="#17486c"/><path d="M19.5,8.9 L45.6,22.4 L45.6,46.3 L19.5,31.8 Z" fill="#3aa9d4"/><path d="M20.5,11.3 L43.2,23.2 L43.2,44.1 L20.5,31.4 Z" fill="#1d5a86"/><path d="M21.5,12.3 L43.2,24 L43.2,44.1 L21.5,31.2 Z" fill="#bdbcbd"/><path d="M20.5,31.2 L43.2,44.1 L43.2,45.6 L20.5,32.7 Z" fill="#6fd0e9"/><path d="M33,42.2 L35.2,43.4 L33.9,45 Z" fill="#1d4f73"/></g><g transform="translate(627.3,562)"><path d="M2.09,1.18 Q0.00,0.00 -2.09,1.18 L-27.13,15.26 Q-28.80,16.20 -28.80,18.12 L-28.80,27.08 Q-28.80,29.00 -27.13,29.94 L-2.72,43.67 Q0.00,45.20 2.72,43.67 L27.13,29.94 Q28.80,29.00 28.80,27.08 L28.80,18.12 Q28.80,16.20 27.13,15.26 Z" fill="url(#gLeft)"/><path d="M0,30.4 L29.8,14.2 L29.8,31.0 L0,47.2 Z" fill="url(#gRight)" clip-path="url(#clip288_162_128)"/><path d="M2.09,1.18 Q0.00,0.00 -2.09,1.18 L-27.13,15.26 Q-28.80,16.20 -27.13,17.14 L-2.72,30.87 Q0.00,32.40 2.72,30.87 L27.13,17.14 Q28.80,16.20 27.13,15.26 Z" fill="url(#gTop)"/><path d="M2.09,2.38 Q0.00,1.20 -2.09,2.38 L-24.93,15.26 Q-26.60,16.20 -24.93,17.14 L-2.72,29.67 Q0.00,31.20 2.72,29.67 L24.93,17.14 Q26.60,16.20 24.93,15.26 Z" fill="none" stroke="#7fcbe3" stroke-width="0.5" opacity="0.75"/><g fill="none" stroke="#fff" stroke-width="1.2" stroke-linecap="round"><path d="M-5,6 Q-5,10.5 0.5,10.5 Q6,10.5 6,6"/><path d="M-5,28.5 Q-5,23 0.5,23 Q6,23 6,28.5"/><path d="M-18,13 Q-12,13 -12,16.5 Q-12,20 -18,20"/><path d="M19,13 Q13,13 13,16.5 Q13,20 19,20"/></g><path d="M-5.00,4.00 L-3.08,6.40 L-6.92,6.40 Z" fill="#fff"/><path d="M6.00,4.00 L7.92,6.40 L4.08,6.40 Z" fill="#fff"/><path d="M-5.00,30.30 L-6.92,27.90 L-3.08,27.90 Z" fill="#fff"/><path d="M6.00,30.30 L4.08,27.90 L7.92,27.90 Z" fill="#fff"/><path d="M-20.50,13.00 L-18.10,11.08 L-18.10,14.92 Z" fill="#fff"/><path d="M-20.50,20.00 L-18.10,18.08 L-18.10,21.92 Z" fill="#fff"/><path d="M21.50,13.00 L19.10,14.92 L19.10,11.08 Z" fill="#fff"/><path d="M21.50,20.00 L19.10,21.92 L19.10,18.08 Z" fill="#fff"/><text x="-9" y="18.7" font-size="7.6" font-weight="bold" fill="#fff" stroke="#fff" stroke-width="0.3" textLength="19.2" lengthAdjust="spacingAndGlyphs" font-family="Liberation Sans">POE</text><g transform="translate(-28.8,16.2) skewY(29.36)"><g transform="translate(1.6,10.8) scale(0.92,1.1)"><text x="0" y="0" font-size="6.9" font-weight="bold" fill="#fff" textLength="26" lengthAdjust="spacing" font-family="Liberation Sans" opacity="0.95">SWITCH</text></g></g><g transform="translate(0,32.4) skewY(-29.36)"><g transform="translate(4.6,9.8) skewX(-8) scale(0.9,1.12)"><text x="0" y="0" font-size="6.9" font-weight="bold" fill="#fff" textLength="24.8" lengthAdjust="spacing" font-family="Liberation Sans" opacity="0.95">1000M</text></g></g></g><g transform="translate(831.8,559)"><path d="M2.08,1.19 Q0.00,0.00 -2.08,1.19 L-27.33,15.65 Q-29.00,16.60 -29.00,18.52 L-29.00,27.48 Q-29.00,29.40 -27.33,30.35 L-2.71,44.45 Q0.00,46.00 2.71,44.45 L27.33,30.35 Q29.00,29.40 29.00,27.48 L29.00,18.52 Q29.00,16.60 27.33,15.65 Z" fill="url(#gLeft)"/><path d="M0,31.200000000000003 L30,14.600000000000001 L30,31.400000000000002 L0,48.0 Z" fill="url(#gRight)" clip-path="url(#clip290_166_128)"/><path d="M2.08,1.19 Q0.00,0.00 -2.08,1.19 L-27.33,15.65 Q-29.00,16.60 -27.33,17.55 L-2.71,31.65 Q0.00,33.20 2.71,31.65 L27.33,17.55 Q29.00,16.60 27.33,15.65 Z" fill="url(#gTop)"/><path d="M2.08,2.40 Q0.00,1.20 -2.08,2.40 L-25.14,15.64 Q-26.80,16.60 -25.14,17.56 L-2.71,30.45 Q0.00,32.00 2.71,30.45 L25.14,17.56 Q26.80,16.60 25.14,15.64 Z" fill="none" stroke="#7fcbe3" stroke-width="0.5" opacity="0.75"/><g fill="none" stroke="#fff" stroke-width="1.35" stroke-linecap="round"><ellipse cx="-0.2" cy="16.8" rx="9.3" ry="5.5"/><path d="M-2.8,11.3 Q-5.5,9.5 -5.8,6.6"/><path d="M2.4,11.3 Q5,9.5 5.2,6.6"/><path d="M-2.8,22.3 Q-5,24.5 -5.2,27"/><path d="M2.4,22.3 Q4.8,24.5 5,27"/><path d="M-9.3,16 Q-12,13.9 -18.5,13.9"/><path d="M-9.3,17.6 Q-12,20 -18.5,20"/><path d="M8.9,16 Q11.6,13.9 18,13.9"/><path d="M8.9,17.6 Q11.6,20 18,20"/></g><path d="M-6.00,4.20 L-3.61,6.70 L-7.92,7.08 Z" fill="#fff"/><path d="M5.40,4.20 L7.32,7.08 L3.01,6.70 Z" fill="#fff"/><path d="M-5.30,29.40 L-7.36,26.63 L-3.05,26.78 Z" fill="#fff"/><path d="M5.10,29.40 L2.85,26.78 L7.16,26.63 Z" fill="#fff"/><path d="M-21.00,13.90 L-18.30,11.74 L-18.30,16.06 Z" fill="#fff"/><path d="M-21.00,20.00 L-18.30,17.84 L-18.30,22.16 Z" fill="#fff"/><path d="M20.60,13.90 L17.90,16.06 L17.90,11.74 Z" fill="#fff"/><path d="M20.60,20.00 L17.90,22.16 L17.90,17.84 Z" fill="#fff"/><text x="-5.4" y="19.9" font-size="8" font-weight="bold" fill="#fff" stroke="#fff" stroke-width="0.3" textLength="10.6" lengthAdjust="spacingAndGlyphs" font-family="Liberation Sans">L2</text><g transform="translate(-29,16.6) skewY(29.79)"><g transform="translate(1.6,10.8) scale(0.92,1.1)"><text x="0" y="0" font-size="6.9" font-weight="bold" fill="#fff" textLength="26" lengthAdjust="spacing" font-family="Liberation Sans" opacity="0.95">SWITCH</text></g></g><g transform="translate(0,33.2) skewY(-29.79)"><g transform="translate(4.6,9.8) skewX(-8) scale(0.9,1.12)"><text x="0" y="0" font-size="6.9" font-weight="bold" fill="#fff" textLength="24.8" lengthAdjust="spacing" font-family="Liberation Sans" opacity="0.95">1000M</text></g></g></g><g transform="translate(555.9,656.4)"><path d="M2.10,1.17 Q0.00,0.00 -2.10,1.17 L-23.92,13.36 Q-25.60,14.30 -25.60,16.22 L-25.60,23.98 Q-25.60,25.90 -23.92,26.84 L-2.72,38.68 Q0.00,40.20 2.72,38.68 L23.92,26.84 Q25.60,25.90 25.60,23.98 L25.60,16.22 Q25.60,14.30 23.92,13.36 Z" fill="url(#gLeft)"/><path d="M0,26.6 L26.6,12.3 L26.6,27.9 L0,42.2 Z" fill="url(#gRight)" clip-path="url(#clip256_143_116)"/><path d="M2.10,1.17 Q0.00,0.00 -2.10,1.17 L-23.92,13.36 Q-25.60,14.30 -23.92,15.24 L-2.72,27.08 Q0.00,28.60 2.72,27.08 L23.92,15.24 Q25.60,14.30 23.92,13.36 Z" fill="url(#gTop)"/><path d="M2.09,2.37 Q0.00,1.20 -2.09,2.37 L-21.72,13.36 Q-23.40,14.30 -21.72,15.24 L-2.72,25.88 Q0.00,27.40 2.72,25.88 L21.72,15.24 Q23.40,14.30 21.72,13.36 Z" fill="none" stroke="#7fcbe3" stroke-width="0.5" opacity="0.75"/><path d="M-16.9,12.8 L-7.5,6.9 L1.9,12.4 L-7.9,18.2 Z" fill="#fff" stroke="#5a6a70" stroke-width="0.25"/><path d="M-7.1,13.9 L-1.6,10.8 L0.6,12.1 L-4.9,15.2 Z" fill="#2f92c0"/><g fill="none" stroke="#fff" stroke-width="1.45" stroke-linecap="round"><path d="M5.60,20.40 Q19.70,14.30 13.00,11.40"/><path d="M4.20,18.80 Q14.75,14.80 9.90,12.00"/><path d="M2.80,16.70 Q9.50,15.35 5.80,13.00"/></g><g transform="translate(-25.6,14.3) skewY(29.19)"><g transform="translate(4.4,10.1) scale(0.92,1.12)"><text x="0" y="0" font-size="6.1" font-weight="bold" fill="#fff" textLength="17.2" lengthAdjust="spacing" font-family="Liberation Sans" opacity="0.95">WLAN</text></g></g></g><g transform="translate(697.5,656.4)"><path d="M2.10,1.17 Q0.00,0.00 -2.10,1.17 L-23.92,13.36 Q-25.60,14.30 -25.60,16.22 L-25.60,23.98 Q-25.60,25.90 -23.92,26.84 L-2.72,38.68 Q0.00,40.20 2.72,38.68 L23.92,26.84 Q25.60,25.90 25.60,23.98 L25.60,16.22 Q25.60,14.30 23.92,13.36 Z" fill="url(#gLeft)"/><path d="M0,26.6 L26.6,12.3 L26.6,27.9 L0,42.2 Z" fill="url(#gRight)" clip-path="url(#clip256_143_116)"/><path d="M2.10,1.17 Q0.00,0.00 -2.10,1.17 L-23.92,13.36 Q-25.60,14.30 -23.92,15.24 L-2.72,27.08 Q0.00,28.60 2.72,27.08 L23.92,15.24 Q25.60,14.30 23.92,13.36 Z" fill="url(#gTop)"/><path d="M2.09,2.37 Q0.00,1.20 -2.09,2.37 L-21.72,13.36 Q-23.40,14.30 -21.72,15.24 L-2.72,25.88 Q0.00,27.40 2.72,25.88 L21.72,15.24 Q23.40,14.30 21.72,13.36 Z" fill="none" stroke="#7fcbe3" stroke-width="0.5" opacity="0.75"/><path d="M-18.1,12.9 L-2.5,3.6 L9.7,11.1 L-6.6,19.7 Z" fill="#f3f1f0" stroke="#c9b8b0" stroke-width="0.3"/><g stroke="#6f7275" stroke-width="0.5"><line x1="-12.5" y1="10" x2="-1.1" y2="16.6"/><line x1="-7" y1="6.6" x2="4.8" y2="12.9"/><line x1="-6.1" y1="12.9" x2="-2" y2="10.4" stroke-width="0.35"/></g><ellipse cx="4.8" cy="10.9" rx="1.45" ry="0.95" fill="#1f6db5"/><g fill="none" stroke="#fff" stroke-width="1.45" stroke-linecap="round"><path d="M11.60,18.80 Q22.85,13.50 17.90,11.40"/><path d="M10.00,17.00 Q18.65,13.80 14.30,11.80"/><path d="M8.40,15.90 Q14.40,14.00 11.60,12.50"/></g><g transform="translate(-25.6,14.3) skewY(29.19)"><g transform="translate(4.4,10.1) scale(0.92,1.12)"><text x="0" y="0" font-size="6.1" font-weight="bold" fill="#fff" textLength="17.2" lengthAdjust="spacing" font-family="Liberation Sans" opacity="0.95">WLAN</text></g></g></g><g transform="translate(805.5,645)"><path d="M5.2,13.3 L22,3.8 Q24.5,2.6 27,3.8 L33.4,7.5 L33.4,14 L15.1,18.5 Z" fill="#3aa0cb"/><path d="M15.1,18.5 L33.4,8 L33.4,36 L26,40.5 L15.3,43.2 Z" fill="url(#gPcR)"/><path d="M5.2,13.3 L15.1,18.5 L15.3,43.2 L5.2,38.3 Z" fill="#2a82b7"/><g stroke-width="0.9"><line x1="8.3" y1="15.5" x2="8.3" y2="39.5" stroke="#3b9bc9"/><line x1="12" y1="17.3" x2="12" y2="41.4" stroke="#318fc2"/></g><path d="M5.2,13.3 L15.1,18.5" stroke="#56b6dc" stroke-width="0.5" fill="none"/><path d="M20.9,41.3 L34.3,49.2 L40.5,45.6 L27,37.8 Z" fill="#37a2cf"/><path d="M20.9,41.3 L34.3,49.2 L34.3,50.3 L20.9,42.4 Z" fill="#2478ab"/><path d="M34.3,49.2 L40.5,45.6 L40.5,46.7 L34.3,50.3 Z" fill="#2d87ba"/><path d="M24.5,35.2 L41.5,44.8 L40.5,45.6 L27,37.8 Z" fill="#2f95c5"/><path d="M21,41 L26,38.2" stroke="#cfeaf3" stroke-width="0.6"/><path d="M19.5,7.2 L47.7,21.75 L47.7,46.9 L19.5,31.8 Z" fill="#17486c"/><path d="M19.5,8.9 L45.6,22.4 L45.6,46.3 L19.5,31.8 Z" fill="#3aa9d4"/><path d="M20.5,11.3 L43.2,23.2 L43.2,44.1 L20.5,31.4 Z" fill="#1d5a86"/><path d="M21.5,12.3 L43.2,24 L43.2,44.1 L21.5,31.2 Z" fill="#bdbcbd"/><path d="M20.5,31.2 L43.2,44.1 L43.2,45.6 L20.5,32.7 Z" fill="#6fd0e9"/><path d="M33,42.2 L35.2,43.4 L33.9,45 Z" fill="#1d4f73"/></g><g fill="#000"><rect x="41.4" y="821.1" width="3.2" height="2.6" rx="1"/><rect x="41.4" y="827.6" width="3.2" height="2.6" rx="1"/></g><line x1="92" y1="828.2" x2="155.2" y2="828.2" stroke="#ffc000" stroke-width="3.3"/><line x1="393.4" y1="828.2" x2="467" y2="828.2" stroke="#000" stroke-width="2"/><line x1="790.2" y1="828.3" x2="687.4" y2="828.3" stroke="#000" stroke-width="3.3" stroke-dasharray="11.3 8.3"/>
<g><text x="402.5" y="43.9" font-size="21.4" font-weight="bold" text-anchor="start" fill="#000" stroke="#000" stroke-width="0.45" textLength="110.5" lengthAdjust="spacingAndGlyphs">核心出口区</text><text x="22.2" y="508.0" font-size="21.2" font-weight="bold" text-anchor="start" fill="#000" stroke="#000" stroke-width="0.45" textLength="131.8" lengthAdjust="spacingAndGlyphs">客用网接入区</text><text x="489.2" y="507.8" font-size="21.2" font-weight="bold" text-anchor="start" fill="#000" stroke="#000" stroke-width="0.45" textLength="131.8" lengthAdjust="spacingAndGlyphs">办公网接入区</text><text x="104.2" y="203" font-size="17" font-weight="normal" text-anchor="start" fill="#000" stroke="#000" stroke-width="0.12" >酒店智能网关</text><text x="465" y="128" font-size="17" font-weight="normal" text-anchor="start" fill="#000" stroke="#000" stroke-width="0.12" >互联网</text><text x="687.2" y="197" font-size="17" font-weight="normal" text-anchor="start" fill="#000" stroke="#000" stroke-width="0.12" >防火墙</text><text x="129.2" y="334" font-size="17" font-weight="normal" text-anchor="start" fill="#000" stroke="#000" stroke-width="0.12" >核心交换机</text><text x="526.2" y="334" font-size="17" font-weight="normal" text-anchor="start" fill="#000" stroke="#000" stroke-width="0.12" >核心交换机</text><text x="359.8" y="371" font-size="17" font-weight="normal" text-anchor="start" fill="#000" stroke="#000" stroke-width="0.12" >无线控制器</text><text x="756.6" y="371" font-size="17" font-weight="normal" text-anchor="start" fill="#000" stroke="#000" stroke-width="0.12" >无线控制器</text><text x="35.6" y="591" font-size="17" font-weight="normal" text-anchor="start" fill="#000" stroke="#000" stroke-width="0.12" textLength="82.6" lengthAdjust="spacingAndGlyphs">POE交换机</text><text x="238.8" y="590" font-size="17" font-weight="normal" text-anchor="start" fill="#000" stroke="#000" stroke-width="0.12" >接入交换机</text><text x="55" y="723" font-size="17" font-weight="normal" text-anchor="start" fill="#000" stroke="#000" stroke-width="0.12" >放装AP</text><text x="198.8" y="723" font-size="17" font-weight="normal" text-anchor="start" fill="#000" stroke="#000" stroke-width="0.12" >面板AP</text><text x="332.5" y="723" font-size="17" font-weight="normal" text-anchor="start" fill="#000" stroke="#000" stroke-width="0.12" >有线终端</text><text x="506.90000000000003" y="591" font-size="17" font-weight="normal" text-anchor="start" fill="#000" stroke="#000" stroke-width="0.12" textLength="82.6" lengthAdjust="spacingAndGlyphs">POE交换机</text><text x="710.1" y="590" font-size="17" font-weight="normal" text-anchor="start" fill="#000" stroke="#000" stroke-width="0.12" >接入交换机</text><text x="526.3" y="723" font-size="17" font-weight="normal" text-anchor="start" fill="#000" stroke="#000" stroke-width="0.12" >放装AP</text><text x="670.1" y="723" font-size="17" font-weight="normal" text-anchor="start" fill="#000" stroke="#000" stroke-width="0.12" >面板AP</text><text x="803.8" y="723" font-size="17" font-weight="normal" text-anchor="start" fill="#000" stroke="#000" stroke-width="0.12" >有线终端</text><text x="5.4" y="830" font-size="16.6" font-weight="bold" text-anchor="start" fill="#000" stroke="#000" stroke-width="0.45" >图例</text><text x="167" y="834" font-size="17" font-weight="normal" text-anchor="start" fill="#000" stroke="#000" stroke-width="0.12" textLength="202.6" lengthAdjust="spacingAndGlyphs">1G Base-SX/LX千兆光链路</text><text x="474" y="834" font-size="17" font-weight="normal" text-anchor="start" fill="#000" stroke="#000" stroke-width="0.12" >1000Base-T千兆电链路</text><text x="805" y="834" font-size="17" font-weight="normal" text-anchor="start" fill="#000" stroke="#000" stroke-width="0.12" >广域网接入链路</text></g>
</svg>
</body></html>
